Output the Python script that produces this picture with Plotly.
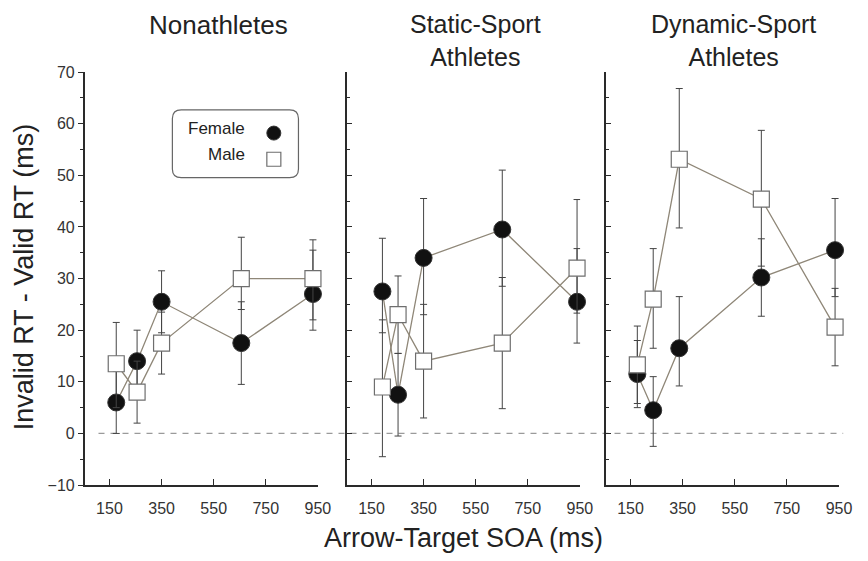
import plotly.graph_objects as go

W, H = 868, 561
FONT = "Liberation Sans, Arial, sans-serif"

# ---------------- data ----------------
panels = ["Nonathletes", "Static-Sport<br>Athletes", "Dynamic-Sport<br>Athletes"]
xticks = [150, 350, 550, 750, 950]
yticks = [-10, 0, 10, 20, 30, 40, 50, 60, 70]

soa_non = [176, 256, 350, 656, 931]
soa_static = [192, 252, 350, 652, 939]
soa_dyn = [176, 237, 337, 652, 935]

non_female = [6, 14, 25.5, 17.5, 27]
non_female_up = [6, 6, 6, 8, 8.5]
non_female_dn = [6, 6, 6, 8, 7]
non_male = [13.5, 8, 17.5, 30, 30]
non_male_up = [8, 6, 6, 8, 7.5]
non_male_dn = [8.5, 6, 6, 6, 8]

static_female = [27.5, 7.5, 34, 39.5, 25.5]
static_female_up = [10.3, 8, 11.5, 11.5, 10.3]
static_female_dn = [8, 8, 11, 11, 8]
static_male = [9, 23, 14, 17.5, 32]
static_male_up = [13, 7.5, 11, 12.7, 13.3]
static_male_dn = [13.5, 7.5, 11, 12.7, 8.7]

dyn_female = [11.5, 4.5, 16.5, 30.2, 35.5]
dyn_female_up = [6.5, 6.5, 10, 7.5, 10]
dyn_female_dn = [6.5, 7, 7.3, 7.5, 9]
dyn_male = [13.3, 26, 53.1, 45.4, 20.6]
dyn_male_up = [7.5, 9.8, 13.7, 13.3, 7.5]
dyn_male_dn = [7.5, 9.5, 13.3, 13, 7.5]

series = [
    (soa_non, non_female, non_female_up, non_female_dn, non_male, non_male_up, non_male_dn),
    (soa_static, static_female, static_female_up, static_female_dn, static_male, static_male_up, static_male_dn),
    (soa_dyn, dyn_female, dyn_female_up, dyn_female_dn, dyn_male, dyn_male_up, dyn_male_dn),
]

# ---------------- layout constants (pixels) ----------------
panel_px = [(86, 323), (352, 589), (615, 852)]
y_top_px, y_bot_px = 66, 492

LINE_COL = "#8f8778"
ERR_COL = "#444444"
AX_COL = "#2a2a2a"
TXT_COL = "#222222"

fig = go.Figure()

for i, (xs, fy, fup, fdn, my, mup, mdn) in enumerate(series):
    xa = "x" if i == 0 else f"x{i+1}"
    ya = "y" if i == 0 else f"y{i+1}"
    fig.add_trace(go.Scatter(
        x=xs, y=fy, xaxis=xa, yaxis=ya, mode="lines+markers", name="Female",
        line=dict(color=LINE_COL, width=1.3),
        marker=dict(symbol="circle", size=17, color="#111111",
                    line=dict(color="#333333", width=1)),
        error_y=dict(type="data", array=fup, arrayminus=fdn, symmetric=False,
                     color=ERR_COL, thickness=1, width=3.5),
        cliponaxis=False, showlegend=False))
    fig.add_trace(go.Scatter(
        x=xs, y=my, xaxis=xa, yaxis=ya, mode="lines+markers", name="Male",
        line=dict(color=LINE_COL, width=1.3),
        marker=dict(symbol="square", size=16, color="white",
                    line=dict(color="#6e6e6e", width=1.2)),
        error_y=dict(type="data", array=mup, arrayminus=mdn, symmetric=False,
                     color=ERR_COL, thickness=1, width=3.5),
        cliponaxis=False, showlegend=False))

ydom = [1 - y_bot_px / H, 1 - y_top_px / H]
layout = dict(
    width=W, height=H, margin=dict(l=0, r=0, t=0, b=0),
    paper_bgcolor="white", plot_bgcolor="rgba(0,0,0,0)",
    font=dict(family=FONT, color=TXT_COL),
    showlegend=False,
)
for i, (x0, x1) in enumerate(panel_px):
    xk = "xaxis" if i == 0 else f"xaxis{i+1}"
    yk = "yaxis" if i == 0 else f"yaxis{i+1}"
    layout[xk] = dict(
        domain=[x0 / W, x1 / W], range=[55, 951], anchor="y" if i == 0 else f"y{i+1}",
        tickvals=xticks, ticks="inside", ticklen=6, tickcolor=AX_COL, tickwidth=1.3,
        ticklabelstandoff=8,
        showline=True, linecolor=AX_COL, linewidth=1.6, showgrid=False, zeroline=False,
        tickfont=dict(size=16, color="#333333"), fixedrange=True)
    layout[yk] = dict(
        domain=ydom, range=[-10, 70], anchor="x" if i == 0 else f"x{i+1}",
        tickvals=yticks, ticks="outside" if i == 0 else "inside", ticklen=5,
        tickcolor=AX_COL, tickwidth=1.3,
        minor=dict(dtick=5, ticklen=3, tickcolor=AX_COL, ticks="outside" if i == 0 else "inside"),
        showticklabels=(i == 0),
        showline=True, linecolor=AX_COL, linewidth=1.6, showgrid=False, zeroline=False,
        tickfont=dict(size=16, color="#333333"), fixedrange=True)

# pixel overlay axes for legend / text placement
layout["xaxis4"] = dict(domain=[0, 1], range=[0, W], visible=False, anchor="y4", fixedrange=True)
layout["yaxis4"] = dict(domain=[0, 1], range=[H, 0], visible=False, anchor="x4", fixedrange=True)
fig.update_layout(**layout)

# legend markers
fig.add_trace(go.Scatter(x=[278], y=[129], xaxis="x4", yaxis="y4", mode="markers",
                         marker=dict(symbol="circle", size=14, color="#111111",
                                     line=dict(color="#333333", width=1)),
                         hoverinfo="skip", showlegend=False))
fig.add_trace(go.Scatter(x=[278], y=[156], xaxis="x4", yaxis="y4", mode="markers",
                         marker=dict(symbol="square", size=14, color="white",
                                     line=dict(color="#6e6e6e", width=1.2)),
                         hoverinfo="skip", showlegend=False))

shapes = [
    dict(type="line", xref="paper", yref="y", x0=100 / W, x1=856 / W, y0=0, y1=0,
         line=dict(color="#9a9a9a", width=1.2, dash="6px,6px"), layer="below"),
    dict(type="path", xref="x4", yref="y4",
         path="M 184,105 L 294,105 Q 303,105 303,114 L 303,166 Q 303,175 294,175 "
              "L 184,175 Q 175,175 175,166 L 175,114 Q 175,105 184,105 Z",
         line=dict(color="#666666", width=1.2), fillcolor="rgba(0,0,0,0)"),
]

ann = []
def txt(x, y, s, size, xanchor="center", angle=0):
    ann.append(dict(xref="x4", yref="y4", x=x, y=y, text=s, showarrow=False,
                    xanchor=xanchor, yanchor="middle", textangle=angle,
                    font=dict(family=FONT, size=size, color=TXT_COL)))

txt(222, 18, panels[0], 26)
txt(483, 34, panels[1], 25)
txt(745, 34, panels[2], 25)
txt(251, 124, "Female", 17, xanchor="right")
txt(251, 151, "Male", 17, xanchor="right")
txt(471, 547, "Arrow-Target SOA (ms)", 27)
txt(24, 277, "Invalid RT - Valid RT (ms)", 27, angle=-90)

fig.update_layout(shapes=shapes, annotations=ann)
fig.write_html("out.html")
